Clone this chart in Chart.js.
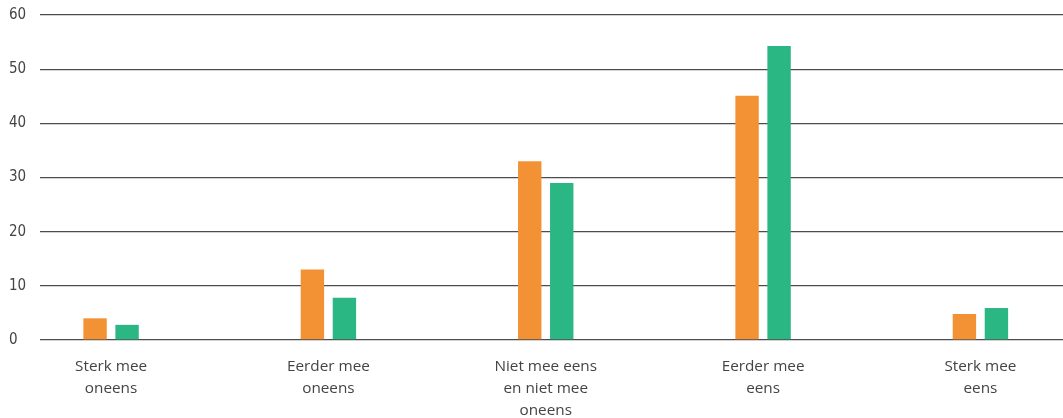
<!DOCTYPE html>
<html>
<head>
<meta charset="utf-8">
<script src="https://cdn.jsdelivr.net/npm/chart.js@4"></script>
<style>
  html, body { margin: 0; padding: 0; background: #fff; overflow: hidden; }
  #wrap { width: 1063px; height: 418px; position: relative; }
</style>
</head>
<body>
<div id="wrap"><canvas id="c"></canvas></div>
<script>
const categories = [
  ["Sterk mee", "oneens"],
  ["Eerder mee", "oneens"],
  ["Niet mee eens", "en niet mee", "oneens"],
  ["Eerder mee", "eens"],
  ["Sterk mee", "eens"]
];
const seriesOrange = [4, 13, 33, 45.1, 4.8];
const seriesGreen = [2.8, 7.8, 29, 54.3, 5.9];
const yTicks = [0, 10, 20, 30, 40, 50, 60];

const toPoints = arr => arr.map((v, i) => ({ x: i, y: v }));

new Chart(document.getElementById('c'), {
  type: 'bar',
  data: {
    datasets: [
      { label: 'A', data: toPoints(seriesOrange), backgroundColor: '#F39234', categoryPercentage: 0.2946, barPercentage: 0.731 },
      { label: 'B', data: toPoints(seriesGreen), backgroundColor: '#2BB784', categoryPercentage: 0.2946, barPercentage: 0.731 }
    ]
  },
  options: {
    responsive: true,
    maintainAspectRatio: false,
    animation: false,
    layout: { padding: { left: 9, right: 0, top: 15, bottom: 0 } },
    plugins: { legend: { display: false }, tooltip: { enabled: false } },
    scales: {
      x: {
        type: 'linear',
        offset: false,
        min: -0.327,
        max: 4.38,
        grid: { display: false, drawTicks: false },
        border: { display: false },
        afterBuildTicks: s => { s.ticks = categories.map((c, i) => ({ value: i })); },
        afterFit: s => { s.height = 78; },
        ticks: {
          autoSkip: false,
          maxRotation: 0,
          padding: 16,
          color: '#444',
          font: { family: "'Open Sans', 'Noto Sans', sans-serif", size: 15.3, lineHeight: 1.44 },
          callback: v => categories[v]
        }
      },
      y: {
        min: 0,
        max: 60,
        afterBuildTicks: s => { s.ticks = yTicks.map(v => ({ value: v })); },
        afterFit: s => { s.width = 31; },
        grid: { color: '#4d4d4d', lineWidth: 1.3, drawTicks: false },
        border: { display: false },
        ticks: {
          crossAlign: 'far',
          padding: 0,
          color: '#444',
          font: { family: "'Liberation Sans Narrow', 'DejaVu Sans Condensed', sans-serif", size: 15 }
        }
      }
    }
  }
});
</script>
</body>
</html>
